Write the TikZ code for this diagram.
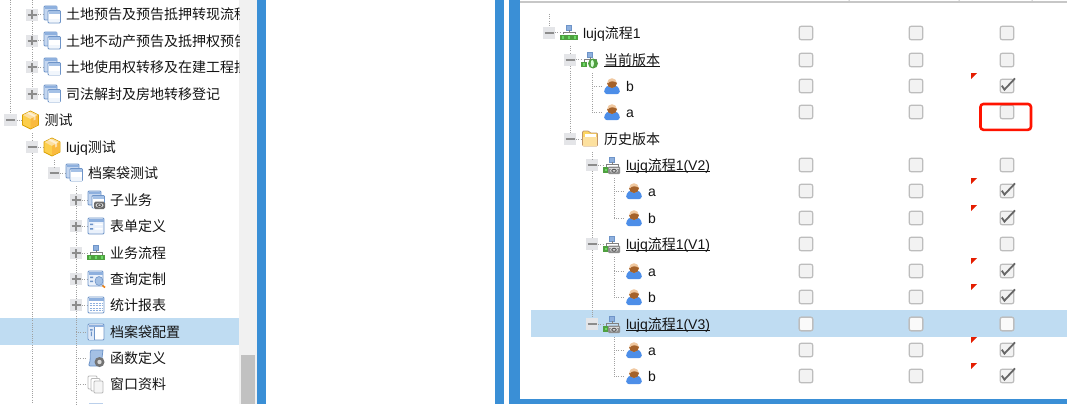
\documentclass[tikz,border=0pt]{standalone}
\usepackage{fontspec}
\setmainfont{Liberation Sans}
\newfontfamily\cjk{Noto Sans CJK SC}
\definecolor{bandblue}{HTML}{3A8FD6}
\definecolor{hilite}{HTML}{BFDCF2}
\definecolor{trackgrey}{HTML}{F1F1F1}
\definecolor{thumbgrey}{HTML}{C1C1C1}
\definecolor{dotgrey}{HTML}{A0A0A0}
\definecolor{framebl}{HTML}{6E94C8}
\definecolor{barbl}{HTML}{8EB0DE}
\definecolor{palebl}{HTML}{DCE8F8}
\definecolor{greenb}{HTML}{4FA040}
\definecolor{userbl}{HTML}{4D8EE8}
\definecolor{userskin}{HTML}{F0C8A0}
\definecolor{userhair}{HTML}{A5622A}
\definecolor{togfill}{HTML}{E4E5E8}
\newcommand\ultext[1]{\setbox0=\hbox{#1}\rlap{\vrule width\wd0 height -1.4pt depth 2.4pt}\box0}
\tikzset{
  x=1pt,y=-1pt,
  dots/.style={draw=dotgrey,line width=1pt,dash pattern=on 1pt off 1.2pt},
  togbox/.style={fill=togfill,draw=none,minimum size=12.5pt,inner sep=0pt,outer sep=0pt},
  tplus/.style={path picture={\draw[black!45,line width=1.3pt] ([xshift=-4.5pt]path picture bounding box.center) -- ([xshift=4.5pt]path picture bounding box.center) ([yshift=-4.5pt]path picture bounding box.center) -- ([yshift=4.5pt]path picture bounding box.center);}},
  tminus/.style={path picture={\draw[black!45,line width=1.3pt] ([xshift=-4.5pt]path picture bounding box.center) -- ([xshift=4.5pt]path picture bounding box.center);}},
  rowtext/.style={anchor=base west,inner sep=0pt,outer sep=0pt,text=black!92,font=\fontsize{14}{16}\selectfont},
  cbox/.style={draw=black!26,line width=1.2pt,fill=black!5,rounded corners=2pt,minimum size=13.5pt,inner sep=0pt,outer sep=0pt},
  tick/.style={draw=black!60,line width=1.8pt},
  redmark/.style={fill=red!75!orange!90!black,draw=none},
  wframe/.style={draw=framebl,line width=0.8pt,rounded corners=1pt},
  winicon/.pic={
    \fill[palebl!70!barbl,wframe] (-8,-9) rectangle (5,5);
    \fill[barbl] (-7.5,-8.5) rectangle (4.5,-6);
    \fill[white,wframe] (-4,-4.5) rectangle (8.5,8);
    \fill[barbl!70!palebl] (-3.5,-4) rectangle (8,-1);
    \fill[palebl!40] (-3.5,4) rectangle (8,7.5);
  },
  boxicon/.pic={
    \fill[draw=black!25!orange!60!yellow,line width=0.8pt,fill=yellow!50!orange!70] (0,-9) -- (8,-5) -- (8,5) -- (0,9) -- (-8,5) -- (-8,-5) -- cycle;
    \fill[yellow!35!orange!35] (0,-8.5) -- (7.5,-5) -- (0,-1) -- (-7.5,-5) -- cycle;
    \fill[yellow!30!orange!75] (0,-1) -- (7.5,-5) -- (7.5,5) -- (0,8.5) -- cycle;
    \fill[white,opacity=.55] (-4,-7) -- (-1.5,-8) -- (5,-4.5) -- (5,-.5) -- (3,.5) -- (3,-3.5) -- cycle;
  },
  flowtop/.pic={
    \fill[barbl,draw=framebl,line width=0.5pt] (-2.6,-8.2) rectangle (2.6,-3);
    \draw[black!50,line width=0.7pt] (0,-3) -- (0,-.8) (-6,1.5) -- (-6,-.8) -- (6,-.8) -- (6,1.5);
  },
  greenbit/.pic={
    \fill[greenb] (-2.8,-2.8) rectangle (2.8,2.8);
    \fill[green!45!greenb!70!white] (-1.2,-1.2) rectangle (1.2,1.2);
  },
  flowicon/.pic={
    \pic at (0,0) {flowtop};
    \pic at (-5.9,4.6) {greenbit};
    \pic at (0,4.6) {greenbit};
    \pic at (5.9,4.6) {greenbit};
  },
  curflowicon/.pic={
    \pic at (0,0) {flowtop};
    \pic at (-6,4.6) {greenbit};
    \fill[greenb] (3,3.5) circle (5);
    \fill[green!15!white] (2.3,3.5) ellipse (1.6 and 3.6);
  },
  vericon/.pic={
    \pic at (0,0) {flowtop};
    \pic at (-6,5) {greenbit};
    \fill[black!45,rounded corners=1pt] (-4,1.5) rectangle (8,9);
    \fill[black!15] (-3,2.5) rectangle (7,4);
    \fill[black!15] (2,5.8) ellipse (4 and 2.2);
    \draw[black!65,line width=1pt] (2,5.8) ellipse (2.2 and 1.5);
  },
  subicon/.pic={
    \pic at (0,0) {winicon};
    \fill[black!58,rounded corners=1.5pt] (-2,1.5) rectangle (9,9);
    \fill[black!15] (3.5,5.2) ellipse (4 and 2.4);
    \draw[black!65,line width=1pt] (3.5,5.2) ellipse (2 and 1.4);
  },
  formicon/.pic={
    \fill[palebl!60,wframe] (-8,-8) rectangle (8,8);
    \fill[barbl] (-7.5,-7.5) rectangle (7.5,-4);
    \fill[framebl] (-6,-2.5) rectangle (-3,-.8) (-6,2) rectangle (-3,3.7);
    \fill[white] (-1.5,-2.5) rectangle (6.5,-.8) (-1.5,2) rectangle (6.5,3.7);
  },
  queryicon/.pic={
    \fill[palebl!60,wframe] (-8,-8) rectangle (7,7);
    \fill[barbl] (-7.5,-7.5) rectangle (6.5,-4.5);
    \fill[framebl] (-6,-2.5) rectangle (-3,-1) (-6,1.5) rectangle (-3,3);
    \fill[barbl!80,draw=framebl,line width=.6pt] (3,2) ellipse (4 and 4.5);
    \draw[orange!70!brown,line width=1.6pt] (6.5,6.5) -- (9,8.5);
  },
  reporticon/.pic={
    \fill[white,wframe] (-8,-8) rectangle (8,8);
    \fill[barbl] (-7.5,-7.5) rectangle (7.5,-4);
    \draw[barbl,line width=1pt,dash pattern=on 2pt off 1pt] (-6.5,-2) -- (7,-2) (-6.5,.5) -- (7,.5) (-6.5,3) -- (7,3) (-6.5,5.5) -- (7,5.5);
  },
  configicon/.pic={
    \fill[white,wframe] (-8,-8) rectangle (8,8);
    \fill[barbl] (-7.5,-7.5) rectangle (7.5,-5);
    \fill[palebl] (-7.5,-5) rectangle (-2,7.5);
    \draw[framebl,line width=.8pt] (-2,-5) -- (-2,7.5);
    \fill[framebl] (-6,-3) rectangle (-3.5,-1.5) (-5.2,-.5) rectangle (-4.2,4);
  },
  funcicon/.pic={
    \fill[barbl!80,draw=framebl,line width=.8pt] (-4,-8) .. controls (-7,-8) and (-5,-3) .. (-6,3) .. controls (-7,7) and (-8,8) .. (-6,8) -- (5,8) -- (7,-8) -- cycle;
    \fill[black!55] (3.5,4) circle (5);
    \fill[black!15] (3.5,4) circle (2.2);
  },
  docsicon/.pic={
    \fill[white,draw=black!28,line width=.8pt,rounded corners=1pt] (-8,-8) rectangle (1,5);
    \fill[white,draw=black!28,line width=.8pt,rounded corners=1pt] (-5,-5.5) rectangle (4,7);
    \fill[black!4,draw=black!28,line width=.8pt,rounded corners=1pt] (-2,-3) rectangle (7,9);
  },
  foldericon/.pic={
    \fill[yellow!50!orange!60,draw=orange!60!black!60,line width=.7pt,rounded corners=1pt] (-7.5,-8) -- (-1,-8) -- (0,-6) -- (7.5,-6) -- (7.5,7) -- (-7.5,7) -- cycle;
    \fill[white] (-5,-5) rectangle (6,-2.5);
    \fill[yellow!40!orange!35] (-7,-2.5) rectangle (7,6.5);
  },
  usericon/.pic={
    \fill[userbl,rounded corners=3pt] (-7.8,8.2) -- (-7.8,2.5) -- (-3.5,-1) -- (3.5,-1) -- (7.8,2.5) -- (7.8,8.2) -- cycle;
    \fill[userskin] (0,-3) circle (4.8);
    \fill[userhair] (-5,-3) arc (180:0:5) -- (4,-3.5) .. controls (2,-5) and (-2,-5.5) .. (-4,-2.5) -- cycle;
  },
}
\newcommand\rowicon[5]{%
  \coordinate (#1i) at (#2+20,#3);
  \pic at (#1i) {#4};
  \node[rowtext] (#1) at (#2+34,#3+5) {#5};
}
\newcommand\rowplus[5]{%
  \node[togbox,tplus] (#1t) at (#2,#3) {};
  \coordinate (#1s) at (#2+11,#3);
  \draw[dots] (#1t.east) -- (#1s);
  \rowicon{#1}{#2}{#3}{#4}{#5}
}
\newcommand\rowminus[5]{%
  \node[togbox,tminus] (#1t) at (#2,#3) {};
  \coordinate (#1s) at (#2+11,#3);
  \draw[dots] (#1t.east) -- (#1s);
  \rowicon{#1}{#2}{#3}{#4}{#5}
}
\newcommand\rowleaf[5]{%
  \coordinate (#1t) at (#2,#3);
  \coordinate (#1s) at (#2+10,#3);
  \draw[dots] (#1t) -- (#1s);
  \rowicon{#1}{#2}{#3}{#4}{#5}
}
\begin{document}
\begin{tikzpicture}
\useasboundingbox (0,0) rectangle (1067,404);
\fill[white] (0,0) rectangle (1067,404);
% panels
\fill[trackgrey] (239,0) rectangle (257,404);
\fill[thumbgrey] (241,355) rectangle (255,404);
\fill[bandblue] (257,0) rectangle (266,404);
\fill[bandblue] (495,0) rectangle (504,404);
\fill[bandblue] (509,0) rectangle (520,404);
\fill[bandblue] (520,399) rectangle (1067,404);
\fill[black!22] (520,1.5) rectangle (1067,2.7);
\fill[black!22] (848.5,0) rectangle (849.5,2) (958.5,0) rectangle (959.5,2) (1031.5,0) rectangle (1032.5,2);
\fill[hilite] (0,318) rectangle (239,345);
\fill[hilite] (531,310) rectangle (1067,337);
% left tree
\begin{scope}
\clip (0,0) rectangle (239,404);
\rowplus{la}{32}{15}{winicon}{{\cjk 土地预告及预告抵押转现流程}}
\rowplus{lb}{32}{41}{winicon}{{\cjk 土地不动产预告及抵押权预告}}
\rowplus{lc}{32}{67}{winicon}{{\cjk 土地使用权转移及在建工程抵}}
\rowplus{ld}{32}{94}{winicon}{{\cjk 司法解封及房地转移登记}}
\rowminus{le}{10.5}{120}{boxicon}{{\cjk 测试}}
\rowminus{lf}{32}{147}{boxicon}{lujq{\cjk 测试}}
\rowminus{lg}{54}{173}{winicon}{{\cjk 档案袋测试}}
\rowplus{lh}{76}{200}{subicon}{{\cjk 子业务}}
\rowplus{li}{76}{226}{formicon}{{\cjk 表单定义}}
\rowplus{lj}{76}{253}{flowicon}{{\cjk 业务流程}}
\rowplus{lk}{76}{279}{queryicon}{{\cjk 查询定制}}
\rowplus{ll}{76}{305}{reporticon}{{\cjk 统计报表}}
\rowleaf{lm}{76}{332}{configicon}{{\cjk 档案袋配置}}
\rowleaf{ln}{76}{358}{funcicon}{{\cjk 函数定义}}
\rowleaf{lo}{76}{384}{docsicon}{{\cjk 窗口资料}}
\end{scope}
\fill[barbl!60] (89,403) rectangle (103,404);
\coordinate (ltopa) at (10.5,0);
\coordinate (ltopb) at (32,0);
\coordinate (lstubf) at (32,133);
\coordinate (lstubg) at (54,160);
\coordinate (lstubh) at (76,186);
\coordinate (lbotb) at (32,404);
\coordinate (lbotc) at (76,404);
\draw[dots] (ltopa) -- (let.north);
\draw[dots] (ltopb) -- (lat.north);
\draw[dots] (lat.south) -- (lbt.north);
\draw[dots] (lbt.south) -- (lct.north);
\draw[dots] (lct.south) -- (ldt.north);
\draw[dots] (lstubf) -- (lft.north);
\draw[dots] (lft.south) -- (lbotb);
\draw[dots] (lstubg) -- (lgt.north);
\draw[dots] (lstubh) -- (lht.north);
\draw[dots] (lht.south) -- (lit.north);
\draw[dots] (lit.south) -- (ljt.north);
\draw[dots] (ljt.south) -- (lkt.north);
\draw[dots] (lkt.south) -- (llt.north);
\draw[dots] (llt.south) -- (lmt);
\draw[dots] (lmt) -- (lnt);
\draw[dots] (lnt) -- (lot);
\draw[dots] (lot) -- (lbotc);
% right tree
\rowminus{ra}{549}{33}{flowicon}{lujq{\cjk 流程}1}
\rowminus{rb}{570}{60}{curflowicon}{\ultext{{\cjk 当前版本}}}
\rowleaf{rc}{592}{86}{usericon}{b}
\rowleaf{rd}{592}{112}{usericon}{a}
\rowminus{re}{570}{139}{foldericon}{{\cjk 历史版本}}
\rowminus{rf}{592}{165}{vericon}{\ultext{lujq{\cjk 流程}1(V2)}}
\rowleaf{rg}{614}{191}{usericon}{a}
\rowleaf{rh}{614}{218}{usericon}{b}
\rowminus{ri}{592}{244}{vericon}{\ultext{lujq{\cjk 流程}1(V1)}}
\rowleaf{rj}{614}{271}{usericon}{a}
\rowleaf{rk}{614}{297}{usericon}{b}
\rowminus{rl}{592}{324}{vericon}{\ultext{lujq{\cjk 流程}1(V3)}}
\rowleaf{rm}{614}{350}{usericon}{a}
\rowleaf{rn}{614}{376}{usericon}{b}
\coordinate (rtop) at (549,14);
\coordinate (rstubb) at (570,46);
\coordinate (rstubc) at (592,73);
\coordinate (rstubf) at (592,152);
\coordinate (rstubg) at (614,178);
\coordinate (rstubj) at (614,257);
\coordinate (rstubm) at (614,337);
\draw[dots] (rtop) -- (rat.north);
\draw[dots] (rstubb) -- (rbt.north);
\draw[dots] (rbt.south) -- (ret.north);
\draw[dots] (rstubc) -- (rct);
\draw[dots] (rct) -- (rdt);
\draw[dots] (rstubf) -- (rft.north);
\draw[dots] (rft.south) -- (rit.north);
\draw[dots] (rit.south) -- (rlt.north);
\draw[dots] (rstubg) -- (rgt);
\draw[dots] (rgt) -- (rht);
\draw[dots] (rstubj) -- (rjt);
\draw[dots] (rjt) -- (rkt);
\draw[dots] (rstubm) -- (rmt);
\draw[dots] (rmt) -- (rnt);
% check boxes
\foreach \rowy/\rowid in {33/a,60/b,86/c,112/d,165/f,191/g,218/h,244/i,271/j,297/k,324/l,350/m,376/n}{
  \node[cbox] (cbl\rowid) at (806,\rowy) {};
  \node[cbox] (cbm\rowid) at (916,\rowy) {};
  \node[cbox] (cbr\rowid) at (1007,\rowy) {};
}
\foreach \rowid in {l}{
  \node[cbox,fill=black!2] at (cbl\rowid) {};
  \node[cbox,fill=black!2] at (cbm\rowid) {};
  \node[cbox,fill=black!2] at (cbr\rowid) {};
}
\foreach \rowid in {c,g,h,j,k,m,n}{
  \draw[tick] ([shift={(-5.2,-.3)}]cbr\rowid.center) -- ([shift={(-2.6,3.6)}]cbr\rowid.center) -- ([shift={(8,-7.6)}]cbr\rowid.center);
  \fill[redmark] ([shift={(-36,-13)}]cbr\rowid.center) -- ([shift={(-30,-13)}]cbr\rowid.center) -- ([shift={(-36,-7)}]cbr\rowid.center) -- cycle;
}
\node[draw=red!85!orange,line width=2.6pt,rounded corners=3pt,minimum width=50.5pt,minimum height=25.8pt,inner sep=0pt,outer sep=0pt] (redframe) at (1005.7,116.9) {};
\end{tikzpicture}
\end{document}
